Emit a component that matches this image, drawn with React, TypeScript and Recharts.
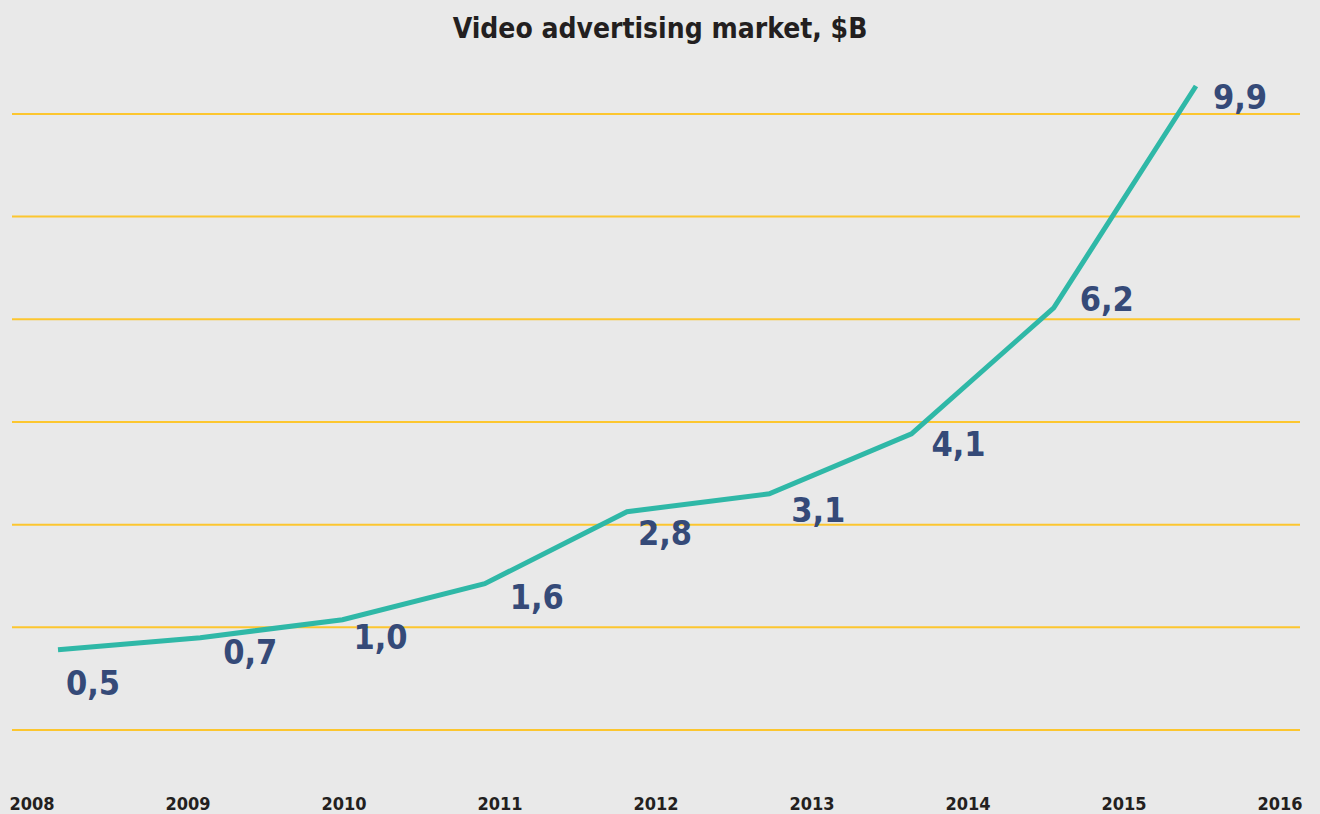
import { LabelList, Line, LineChart, ReferenceLine, XAxis, YAxis } from "recharts";

const YEARS = [2008, 2009, 2010, 2011, 2012, 2013, 2014, 2015, 2016];
const MARKET_VALUES = [0.5, 0.7, 1.0, 1.6, 2.8, 3.1, 4.1, 6.2, 9.9];
const GRID_TICKS = [0, 1, 2, 3, 4, 5, 6];

// label nudges (px) so each value sits where the original put it
const LABEL_OFFSETS = [
  [35, 33],
  [50, 14],
  [38, 17],
  [52, 13],
  [38, 21],
  [49, 16],
  [47, 10],
  [53, -9],
  [44, 11]
];

const data = YEARS.map((year, i) => ({ year, step: i, value: MARKET_VALUES[i] }));

const FONT = "'DejaVu Sans Condensed', 'DejaVu Sans', sans-serif";

function ValueLabel(props: any) {
  const { x, y, value, index } = props;
  const [dx, dy] = LABEL_OFFSETS[index] || [0, 0];
  return (
    <text
      x={x + dx}
      y={y + dy}
      textAnchor="middle"
      dominantBaseline="central"
      fill="#354a78"
      fontFamily={FONT}
      fontWeight={700}
      fontSize={34}
      style={{ fontStretch: "condensed" }}
    >
      {Number(value).toFixed(1).replace(".", ",")}
    </text>
  );
}

export default function App() {
  return (
    <div style={{ position: "absolute", left: 0, top: 0, width: 1320, height: 814, background: "#e9e9e9" }}>
      <div
        style={{
          position: "absolute",
          top: 12,
          width: "100%",
          textAlign: "center",
          fontFamily: FONT,
          fontStretch: "condensed",
          fontWeight: 700,
          fontSize: 28,
          color: "#231f20"
        }}
      >
        Video advertising market, $B
      </div>
      <LineChart width={1320} height={814} data={data} margin={{ top: 80, right: 20, bottom: 0, left: 12 }}>
        <XAxis
          xAxisId="years"
          dataKey="year"
          type="number"
          domain={[2008, 2016]}
          allowDataOverflow
          ticks={YEARS}
          padding={{ left: 20, right: 20 }}
          axisLine={false}
          tickLine={false}
          tickMargin={61}
          height={84}
          tick={{ fill: "#231f20", fontSize: 18, fontWeight: 700, fontFamily: FONT }}
        />
        <XAxis
          xAxisId="steps"
          dataKey="step"
          type="number"
          domain={[0, 8]}
          padding={{ left: 46, right: 104 }}
          height={0}
          hide
        />
        <YAxis yAxisId="value" type="number" domain={[-0.84, 10]} hide />
        <YAxis yAxisId="grid" type="number" domain={[0, 6.33]} allowDataOverflow hide />
        {GRID_TICKS.map((t) => (
          <ReferenceLine key={t} xAxisId="steps" yAxisId="grid" y={t} stroke="#fcc62f" strokeWidth={2} />
        ))}
        <Line
          xAxisId="steps"
          yAxisId="value"
          dataKey="value"
          stroke="#2fb8a7"
          strokeWidth={5}
          dot={false}
          isAnimationActive={false}
        >
          <LabelList dataKey="value" content={ValueLabel} />
        </Line>
      </LineChart>
    </div>
  );
}
